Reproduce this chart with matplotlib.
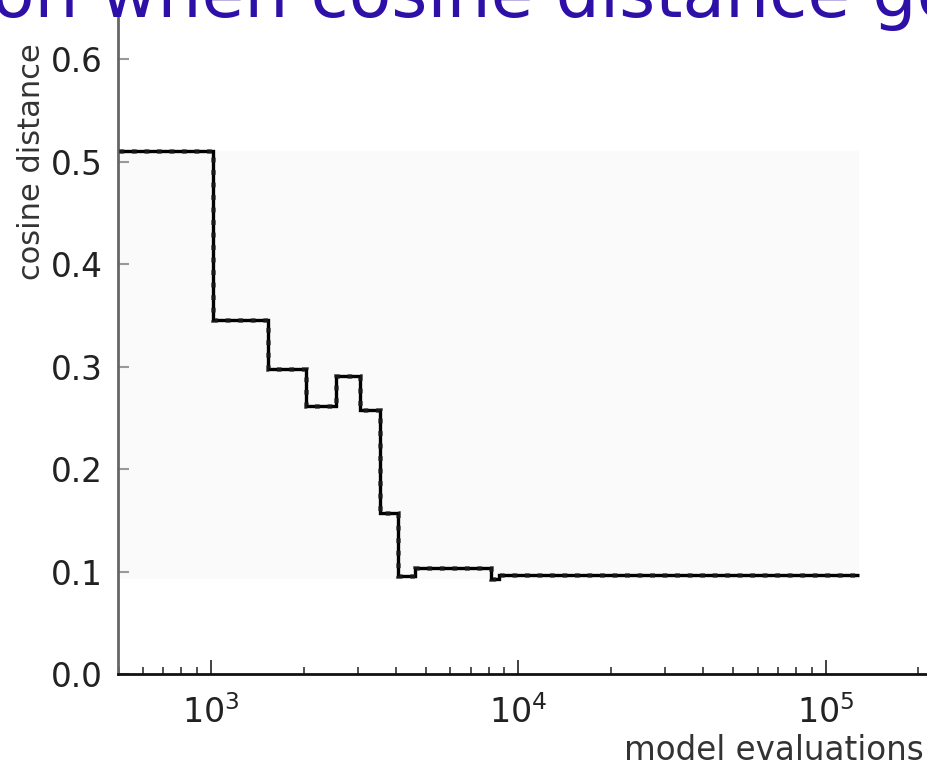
import matplotlib.pyplot as plt
import numpy as np

# step edges (model evaluations) and cosine distance per step
edges = [500, 1015, 1530, 2040, 2550, 3050, 3550, 4050, 4600, 8130, 8650, 128000]
distance = [0.510, 0.345, 0.298, 0.262, 0.291, 0.258, 0.157, 0.096, 0.103, 0.093, 0.097]
yticks = [0.0, 0.1, 0.2, 0.3, 0.4, 0.5, 0.6]

fig = plt.figure(figsize=(9.28, 7.77), dpi=100)
ax = fig.add_axes([118 / 928, 103 / 777, 1 - 118 / 928, 662 / 777])

# faint band behind the curve
ax.fill_between([edges[0], edges[-1]], min(distance), max(distance),
                color='#fafafa', zorder=0, lw=0)

ax.stairs(distance, edges, baseline=None, color='k', lw=2.4, zorder=3)
ax.stairs(distance, edges, baseline=None, color='#222222', lw=3.4,
          linestyle=':', alpha=0.7, zorder=4)

ax.set_xscale('log')
ax.set_xlim(498, 2.15e5)
ax.set_ylim(0, 0.646)
ax.set_yticks(yticks)
ax.set_yticklabels([f'{v:.1f}' for v in yticks])

for side in ['top', 'right']:
    ax.spines[side].set_visible(False)
ax.spines['left'].set_color('#666666')
ax.spines['left'].set_linewidth(2)
ax.spines['bottom'].set_color('#111111')
ax.spines['bottom'].set_linewidth(2)

ax.tick_params(axis='y', direction='in', length=8, width=1.5, color='#999999',
               labelsize=23.5, pad=11, labelcolor='#222222')
ax.tick_params(axis='x', which='major', direction='in', length=10, width=1.3,
               color='#333333', labelsize=24, pad=15, labelcolor='#222222')
ax.tick_params(axis='x', which='minor', direction='in', length=5, width=1.2,
               color='#333333')

fig.text(32 / 928, 1 - 162 / 777, 'cosine distance', rotation=90, fontsize=22,
         ha='center', va='center', color='#333333')
fig.text(924 / 928, 1 - 750 / 777, 'model evaluations', fontsize=23.5,
         ha='right', va='center', color='#333333')

# slide title, cut off by the crop just as in the source slide
fig.text(-8 / 928, 1 - 17 / 777, 'on when cosine distance goes', fontsize=50,
         ha='left', va='baseline', color='#2E10A8')

fig.savefig('out.png', dpi=100)
